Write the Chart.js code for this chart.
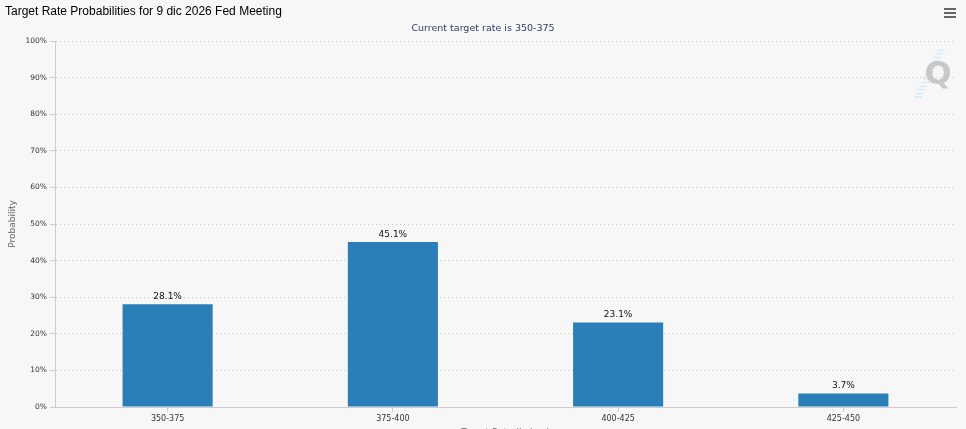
<!DOCTYPE html>
<html>
<head>
<meta charset="utf-8">
<script src="https://cdn.jsdelivr.net/npm/chart.js@4.4.1/dist/chart.umd.min.js"></script>
<style>
  html, body { margin: 0; padding: 0; background: #f7f7f7; overflow: hidden; }
  #wrap { width: 966px; height: 445px; }
</style>
</head>
<body>
<div id="wrap"><canvas id="chart" width="966" height="445"></canvas></div>
<script>
const chartTitle = 'Target Rate Probabilities for 9 dic 2026 Fed Meeting';
const chartSubtitle = 'Current target rate is 350-375';
const rates = ['350-375', '375-400', '400-425', '425-450'];
const probabilities = [28.1, 45.1, 23.1, 3.7];
const yTicks = [0, 10, 20, 30, 40, 50, 60, 70, 80, 90, 100];

// titles, menu icon and watermark
const headerPlugin = {
    id: 'header',
    beforeDraw(chart) {
        const ctx = chart.ctx;
        ctx.save();
        ctx.fillStyle = '#000';
        ctx.font = '12px "Liberation Sans", Arial, sans-serif';
        ctx.textAlign = 'left';
        ctx.textBaseline = 'middle';
        ctx.fillText(chartTitle, 5, 12);

        ctx.fillStyle = '#333a66';
        ctx.font = '9.5px "DejaVu Sans", sans-serif';
        ctx.textAlign = 'center';
        ctx.fillText(chartSubtitle, 483, 29);

        // menu icon
        ctx.strokeStyle = '#666';
        ctx.lineWidth = 2;
        [9, 13, 17].forEach(y => {
            ctx.beginPath();
            ctx.moveTo(944, y);
            ctx.lineTo(956, y);
            ctx.stroke();
        });

        // watermark
        ctx.strokeStyle = 'rgba(140,200,240,0.4)';
        ctx.lineWidth = 1;
        for (let i = 0; i < 14; i++) {
            ctx.beginPath();
            ctx.moveTo(914 + i * 1.8, 97 - i * 3.6);
            ctx.lineTo(922 + i * 1.8, 97 - i * 3.6);
            ctx.stroke();
        }
        ctx.fillStyle = '#c8c8c8';
        ctx.font = 'bold 32px "DejaVu Sans", sans-serif';
        ctx.textAlign = 'center';
        ctx.fillText('Q', 938, 76);
        ctx.restore();
    }
};

// value labels above bars
const valueLabels = {
    id: 'valueLabels',
    afterDatasetsDraw(chart) {
        const ctx = chart.ctx;
        const meta = chart.getDatasetMeta(0);
        ctx.save();
        ctx.fillStyle = '#111';
        ctx.font = '9px "DejaVu Sans", sans-serif';
        ctx.textAlign = 'center';
        ctx.textBaseline = 'bottom';
        meta.data.forEach((bar, i) => {
            ctx.fillText(probabilities[i].toFixed(1) + '%', bar.x, bar.y - 3);
        });
        ctx.restore();
    }
};

new Chart(document.getElementById('chart'), {
    type: 'bar',
    data: {
        labels: rates,
        datasets: [{
            data: probabilities,
            backgroundColor: '#2a7fb9',
            borderWidth: 0,
            barPercentage: 0.4,
            categoryPercentage: 1.0
        }]
    },
    options: {
        responsive: false,
        animation: false,
        layout: { padding: { top: 41, left: 7, right: 10, bottom: 7 } },
        plugins: {
            legend: { display: false },
            tooltip: { enabled: false },
            title: { display: false }
        },
        scales: {
            x: {
                afterFit: s => { s.height = 31; },
                grid: {
                    offset: false,
                    color: 'transparent',
                    tickColor: '#ccc',
                    tickLength: 5
                },
                border: { color: '#ccc' },
                ticks: {
                    color: '#333',
                    font: { family: '"DejaVu Sans", sans-serif', size: 8 },
                    padding: 2
                },
                title: {
                    display: true,
                    text: 'Target Rate (in bps)',
                    color: '#666',
                    font: { family: '"DejaVu Sans", sans-serif', size: 9 },
                    padding: 0
                }
            },
            y: {
                min: 0,
                max: 100,
                afterFit: s => { s.width = 48; },
                afterBuildTicks: s => { s.ticks = yTicks.map(v => ({ value: v })); },
                grid: {
                    color: '#c4c4c4',
                    tickColor: '#ccc',
                    tickBorderDash: [],
                    tickLength: 5
                },
                border: { color: '#ccc', dash: [1, 3] },
                ticks: {
                    color: '#333',
                    font: { family: '"DejaVu Sans", sans-serif', size: 7.5 },
                    padding: 3,
                    callback: v => v + '%'
                },
                title: {
                    display: true,
                    text: 'Probability',
                    color: '#666',
                    font: { family: '"DejaVu Sans", sans-serif', size: 9 },
                    padding: { top: 0, bottom: 0 }
                }
            }
        }
    },
    plugins: [headerPlugin, valueLabels]
});
</script>
</body>
</html>
